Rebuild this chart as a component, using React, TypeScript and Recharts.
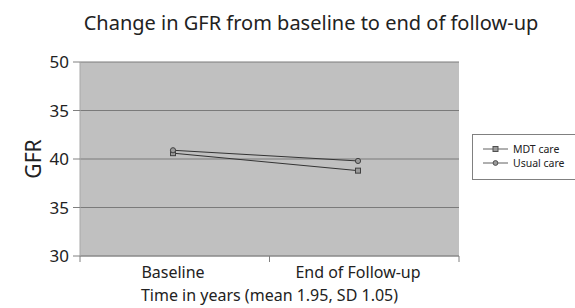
import { LineChart, CartesianGrid, Legend, Line, XAxis, YAxis } from 'recharts'

const categories = ['Baseline', 'End of Follow-up']
const mdtCare = [40.6, 38.8]
const usualCare = [40.9, 39.8]
const yTickValues = [30, 35, 40, 45, 50]
const yTickLabels = ['30', '35', '40', '35', '50']

const data = categories.map((name, i) => ({ name, mdt: mdtCare[i], usual: usualCare[i] }))

const FONT = '"Noto Sans", "Open Sans", sans-serif'
const PLOT_LEFT = 80
const PLOT_RIGHT = 459
const PAD_LEFT = 93
const PAD_RIGHT = 101

function SquareDot(props: any) {
    const { cx, cy } = props
    return <rect x={cx - 2.5} y={cy - 2.5} width={5} height={5} fill="#9a9a9a" stroke="#404040" strokeWidth={1} />
}

function CircleDot(props: any) {
    const { cx, cy } = props
    return <circle cx={cx} cy={cy} r={2.6} fill="#9a9a9a" stroke="#404040" strokeWidth={1} />
}

function XTick(props: any) {
    const { x, y, payload, index } = props
    const mid = (PLOT_RIGHT - PLOT_LEFT) / 2
    return (
        <g>
            {index === 0 && (
                <>
                    <line x1={x - PAD_LEFT} x2={x - PAD_LEFT} y1={y - 8} y2={y - 2} stroke="#808080" />
                    <line x1={x - PAD_LEFT + mid} x2={x - PAD_LEFT + mid} y1={y - 8} y2={y - 2} stroke="#808080" />
                </>
            )}
            {index === categories.length - 1 && (
                <line x1={x + PAD_RIGHT} x2={x + PAD_RIGHT} y1={y - 8} y2={y - 2} stroke="#808080" />
            )}
            <text x={x} y={y + 14} textAnchor="middle" fontFamily={FONT} fontSize={16} fill="#222">
                {payload.value}
            </text>
        </g>
    )
}

function LegendBox() {
    return (
        <div style={{ border: '1px solid #808080', borderRight: 'none', width: 110, height: 46, boxSizing: 'border-box', paddingTop: 6, color: '#222' }}>
            <svg width={110} height={34} style={{ display: 'block' }}>
                <line x1={10} x2={35} y1={8} y2={8} stroke="#606060" />
                <rect x={20} y={5.5} width={5} height={5} fill="#9a9a9a" stroke="#505050" />
                <text x={40} y={11.5} fontFamily={FONT} fontSize={10.5} fill="#222">MDT care</text>
                <line x1={10} x2={35} y1={22} y2={22} stroke="#606060" />
                <circle cx={22.5} cy={22} r={2.4} fill="#9a9a9a" stroke="#505050" />
                <text x={40} y={25.5} fontFamily={FONT} fontSize={10.5} fill="#222">Usual care</text>
            </svg>
        </div>
    )
}

export default function App() {
    return (
        <div style={{ position: 'absolute', left: 0, top: 0, width: 575, height: 308, background: '#fff' }}>
            <div style={{ position: 'absolute', left: 0, top: 9, width: 622, textAlign: 'center', fontFamily: FONT, fontSize: 20, color: '#222' }}>
                Change in GFR from baseline to end of follow-up
            </div>
            <div style={{ position: 'absolute', left: 0, top: 0 }}>
                <LineChart
                    width={575}
                    height={308}
                    data={data}
                    margin={{ top: 62, right: 575 - PLOT_RIGHT, left: 0, bottom: 0 }}
                >
                    <CartesianGrid vertical={false} stroke="#7a7a7a" fill="#c0c0c0" fillOpacity={1} />
                    <XAxis
                        dataKey="name"
                        height={52}
                        padding={{ left: PAD_LEFT, right: PAD_RIGHT }}
                        axisLine={{ stroke: '#909090' }}
                        tickLine={false}
                        tick={<XTick />}
                        interval={0}
                    />
                    <YAxis
                        width={PLOT_LEFT}
                        domain={[30, 50]}
                        ticks={yTickValues}
                        tickFormatter={(v: number) => yTickLabels[yTickValues.indexOf(v)]}
                        axisLine={{ stroke: '#a8a8a8' }}
                        tickLine={{ stroke: '#808080' }}
                        tickSize={7}
                        tickMargin={4}
                        tick={{ fontFamily: FONT, fontSize: 17, fill: '#222' }}
                        label={{ value: 'GFR', angle: -90, position: 'insideLeft', offset: 34, style: { fontFamily: FONT, fontSize: 21, fill: '#222', textAnchor: 'middle' } }}
                    />
                    <YAxis yAxisId="right" orientation="right" width={0} domain={[30, 50]} tick={false} tickLine={false} axisLine={{ stroke: '#808080' }} />
                    <Legend
                        layout="horizontal"
                        verticalAlign="middle"
                        align="center"
                        content={<LegendBox />}
                        wrapperStyle={{ left: 472, top: 134, width: 110, height: 46 }}
                    />
                    <Line dataKey="mdt" name="MDT care" stroke="#333" strokeWidth={1} dot={<SquareDot />} activeDot={false} isAnimationActive={false} />
                    <Line dataKey="usual" name="Usual care" stroke="#333" strokeWidth={1} dot={<CircleDot />} activeDot={false} isAnimationActive={false} />
                </LineChart>
            </div>
            <div style={{ position: 'absolute', left: PLOT_LEFT, width: PLOT_RIGHT - PLOT_LEFT, top: 284, textAlign: 'center', fontFamily: FONT, fontSize: 16, color: '#222' }}>
                Time in years (mean 1.95, SD 1.05)
            </div>
        </div>
    )
}
